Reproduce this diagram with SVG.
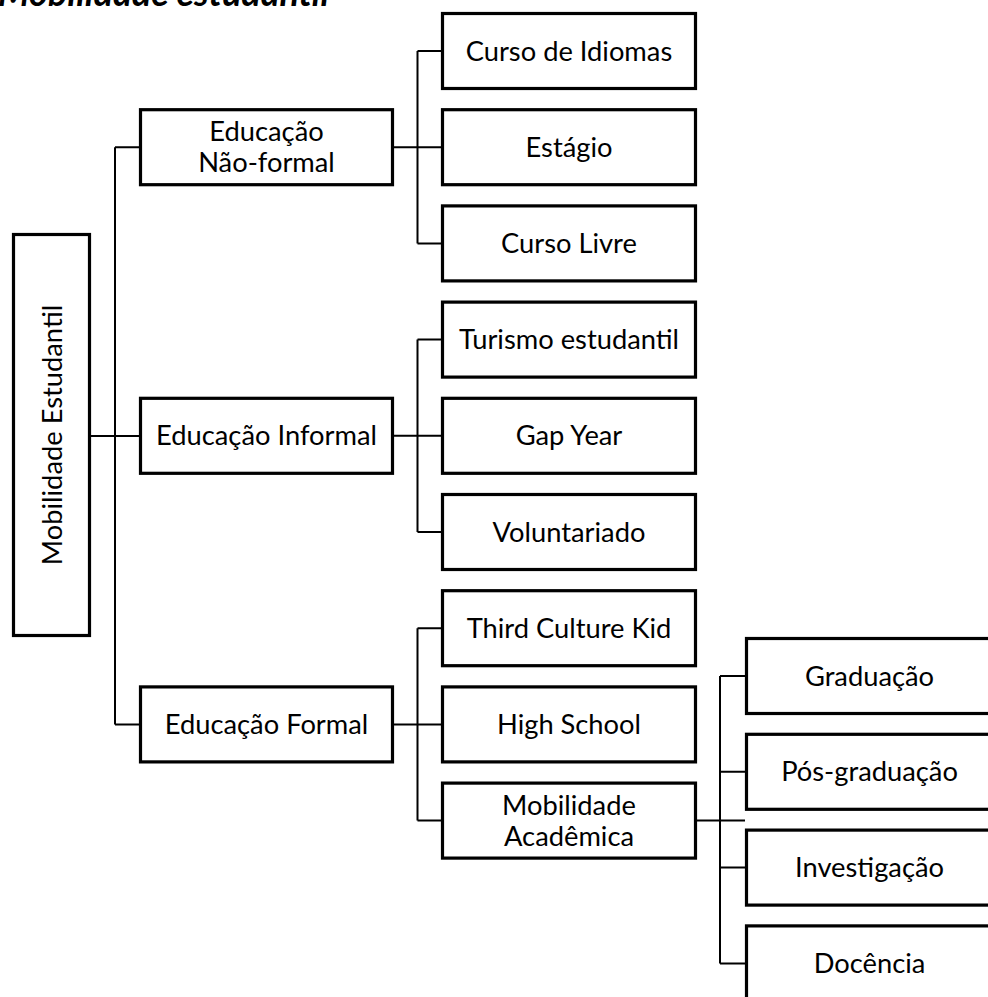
<svg xmlns="http://www.w3.org/2000/svg" width="988" height="997" viewBox="0 0 988 997">
<style>
.box{fill:#fff;stroke:#000;stroke-width:3.2}
.lbl{font-family:Lato,"Liberation Sans",sans-serif;font-size:27.3px;fill:#000;text-anchor:middle}
.conn{fill:none;stroke:#000;stroke-width:2}
.title{font-family:Lato,"Liberation Sans",sans-serif;font-size:36px;font-weight:bold;font-style:italic;fill:#000;text-anchor:end}
</style>
<rect width="988" height="997" fill="#fff"/>
<text class="title" x="329" y="6">Mobilidade estudantil</text>
<g id="connectors" class="conn">
<path d="M91,436 H139 M115,147.2 V724.4 M115,147.2 H139 M115,724.4 H139"/>
<path d="M394,147.2 H441 M417.5,51 V243.4 M417.5,51 H441 M417.5,243.4 H441"/>
<path d="M394,435.8 H441 M417.5,339.6 V532 M417.5,339.6 H441 M417.5,532 H441"/>
<path d="M394,724.4 H441 M417.5,628.2 V820.6 M417.5,628.2 H441 M417.5,820.6 H441"/>
<path d="M697,820.6 H745 M720,676 V963.4 M720,676 H745 M720,771.8 H745 M720,867.6 H745 M720,963.4 H745"/>
</g>
<g id="root"><rect class="box" x="13.5" y="234.5" width="76" height="401"/><text class="lbl" transform="translate(61.5,435) rotate(-90)">Mobilidade Estudantil</text></g>
<g id="nao-formal"><rect class="box" x="140.5" y="109.7" width="252" height="75"/><text class="lbl" x="266.5" y="141">Educação</text><text class="lbl" x="266.5" y="172">Não-formal</text></g>
<g id="informal"><rect class="box" x="140.5" y="398.3" width="252" height="75"/><text class="lbl" x="266.5" y="445.3">Educação Informal</text></g>
<g id="formal"><rect class="box" x="140.5" y="686.9" width="252" height="75"/><text class="lbl" x="266.5" y="733.9">Educação Formal</text></g>
<g id="idiomas"><rect class="box" x="442.5" y="13.5" width="253" height="75"/><text class="lbl" x="569" y="60.5">Curso de Idiomas</text></g>
<g id="estagio"><rect class="box" x="442.5" y="109.7" width="253" height="75"/><text class="lbl" x="569" y="156.7">Estágio</text></g>
<g id="livre"><rect class="box" x="442.5" y="205.9" width="253" height="75"/><text class="lbl" x="569" y="252.9">Curso Livre</text></g>
<g id="turismo"><rect class="box" x="442.5" y="302.1" width="253" height="75"/><text class="lbl" x="569" y="349.1">Turismo estudantil</text></g>
<g id="gap"><rect class="box" x="442.5" y="398.3" width="253" height="75"/><text class="lbl" x="569" y="445.3">Gap Year</text></g>
<g id="voluntariado"><rect class="box" x="442.5" y="494.5" width="253" height="75"/><text class="lbl" x="569" y="541.5">Voluntariado</text></g>
<g id="tck"><rect class="box" x="442.5" y="590.7" width="253" height="75"/><text class="lbl" x="569" y="637.7">Third Culture Kid</text></g>
<g id="highschool"><rect class="box" x="442.5" y="686.9" width="253" height="75"/><text class="lbl" x="569" y="733.9">High School</text></g>
<g id="academica"><rect class="box" x="442.5" y="783.1" width="253" height="75"/><text class="lbl" x="569" y="815">Mobilidade</text><text class="lbl" x="569" y="846">Acadêmica</text></g>
<g id="graduacao"><rect class="box" x="746.5" y="638.5" width="246" height="75"/><text class="lbl" x="869.5" y="685.5">Graduação</text></g>
<g id="posgraduacao"><rect class="box" x="746.5" y="734.3" width="246" height="75"/><text class="lbl" x="869.5" y="781.3">Pós-graduação</text></g>
<g id="investigacao"><rect class="box" x="746.5" y="830.1" width="246" height="75"/><text class="lbl" x="869.5" y="877.1">Investigação</text></g>
<g id="docencia"><rect class="box" x="746.5" y="925.9" width="246" height="75"/><text class="lbl" x="869.5" y="972.9">Docência</text></g>
</svg>
